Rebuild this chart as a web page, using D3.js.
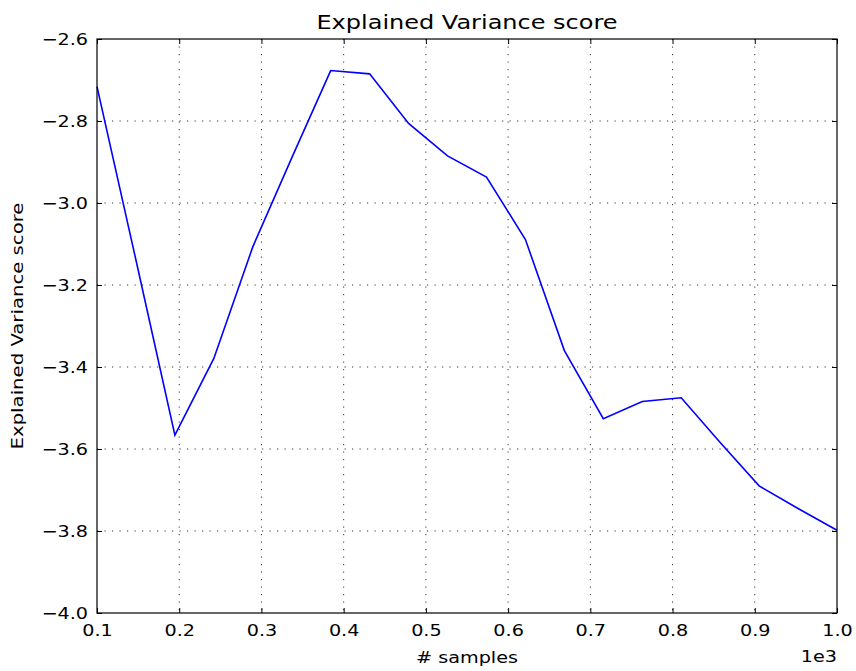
<!DOCTYPE html>
<html lang="en">
<head>
<meta charset="UTF-8">
<script src="https://cdn.jsdelivr.net/npm/d3@7"></script>
<style>
    body { margin: 0; background: white; }
    text { font-family: 'DejaVu Sans', sans-serif; fill: black; }
    .grid line { stroke: #000; stroke-width: 0.8; stroke-dasharray: 1.2,6.3; }
</style>
</head>
<body>
<div id="chart"></div>
<script>
    // samples in units of 1e3 (np.linspace(100, 1000, 20))
    const samples = d3.range(20).map(i => (100 + i * 900 / 19) / 1000);
    const scores = [-2.716, -3.139, -3.566, -3.379, -3.107, -2.890, -2.677, -2.685, -2.806, -2.885,
                    -2.937, -3.089, -3.360, -3.526, -3.484, -3.475, -3.584, -3.690, -3.745, -3.798];
    const xTicks = [0.1, 0.2, 0.3, 0.4, 0.5, 0.6, 0.7, 0.8, 0.9, 1.0];
    const yTicks = [-2.6, -2.8, -3.0, -3.2, -3.4, -3.6, -3.8, -4.0];

    const width = 856, height = 671;
    const margin = {top: 39, right: 19, bottom: 58, left: 97};
    const stretch = 1.2; // glyphs in the reference are wider than DejaVu

    const svg = d3.select("#chart").append("svg")
        .attr("width", width)
        .attr("height", height);

    const x = d3.scaleLinear().domain([0.1, 1.0]).range([margin.left, width - margin.right]);
    const y = d3.scaleLinear().domain([-4.0, -2.6]).range([height - margin.bottom, margin.top]);

    const fmt = d => d3.format(".1f")(d).replace("-", "\u2212");

    // grid
    svg.append("g").attr("class", "grid")
        .selectAll("line").data(xTicks.slice(1, -1)).join("line")
        .attr("x1", d => x(d)).attr("x2", d => x(d))
        .attr("y1", y(-2.6)).attr("y2", y(-4.0));
    svg.append("g").attr("class", "grid")
        .selectAll("line").data(yTicks.slice(1, -1)).join("line")
        .attr("y1", d => y(d)).attr("y2", d => y(d))
        .attr("x1", x(0.1)).attr("x2", x(1.0));

    // line
    const line = d3.line().x((d, i) => x(samples[i])).y(d => y(d));
    svg.append("path")
        .datum(scores)
        .attr("fill", "none")
        .attr("stroke", "#0000ff")
        .attr("stroke-width", 1.6)
        .attr("d", line);

    // axes (ticks inside, on all four sides)
    const tl = 5;
    svg.append("g")
        .attr("transform", `translate(0,${y(-4.0)})`)
        .call(d3.axisBottom(x).tickValues(xTicks).tickFormat(fmt).tickSizeInner(-tl).tickSizeOuter(0).tickPadding(12))
        .call(g => g.select(".domain").remove())
        .call(g => g.selectAll("text").attr("font-size", 16).attr("transform", `scale(${stretch},1)`));
    svg.append("g")
        .attr("transform", `translate(0,${y(-2.6)})`)
        .call(d3.axisTop(x).tickValues(xTicks).tickFormat("").tickSizeInner(-tl).tickSizeOuter(0))
        .call(g => g.select(".domain").remove());
    svg.append("g")
        .attr("transform", `translate(${x(0.1)},0)`)
        .call(d3.axisLeft(y).tickValues(yTicks).tickFormat(fmt).tickSizeInner(-tl).tickSizeOuter(0).tickPadding(7.5))
        .call(g => g.select(".domain").remove())
        .call(g => g.selectAll("text").attr("font-size", 16).attr("transform", `scale(${stretch},1)`));
    svg.append("g")
        .attr("transform", `translate(${x(1.0)},0)`)
        .call(d3.axisRight(y).tickValues(yTicks).tickFormat("").tickSizeInner(-tl).tickSizeOuter(0))
        .call(g => g.select(".domain").remove());

    // frame
    svg.append("rect")
        .attr("x", x(0.1)).attr("y", y(-2.6))
        .attr("width", x(1.0) - x(0.1)).attr("height", y(-4.0) - y(-2.6))
        .attr("fill", "none").attr("stroke", "#000").attr("stroke-width", 1.2);

    // labels
    const cx = (x(0.1) + x(1.0)) / 2;
    svg.append("text")
        .attr("transform", `translate(${cx},29) scale(${stretch},1)`)
        .attr("text-anchor", "middle").attr("font-size", 20)
        .text("Explained Variance score");
    svg.append("text")
        .attr("transform", `translate(${cx},663) scale(${stretch},1)`)
        .attr("text-anchor", "middle").attr("font-size", 16)
        .text("# samples");
    svg.append("text")
        .attr("transform", `translate(${x(1.0)},662) scale(${stretch},1)`)
        .attr("text-anchor", "end").attr("font-size", 16)
        .text("1e3");
    svg.append("text")
        .attr("transform", `translate(23,${(y(-2.6) + y(-4.0)) / 2}) rotate(-90) scale(1.23,1)`)
        .attr("text-anchor", "middle").attr("font-size", 16)
        .text("Explained Variance score");
</script>
</body>
</html>
